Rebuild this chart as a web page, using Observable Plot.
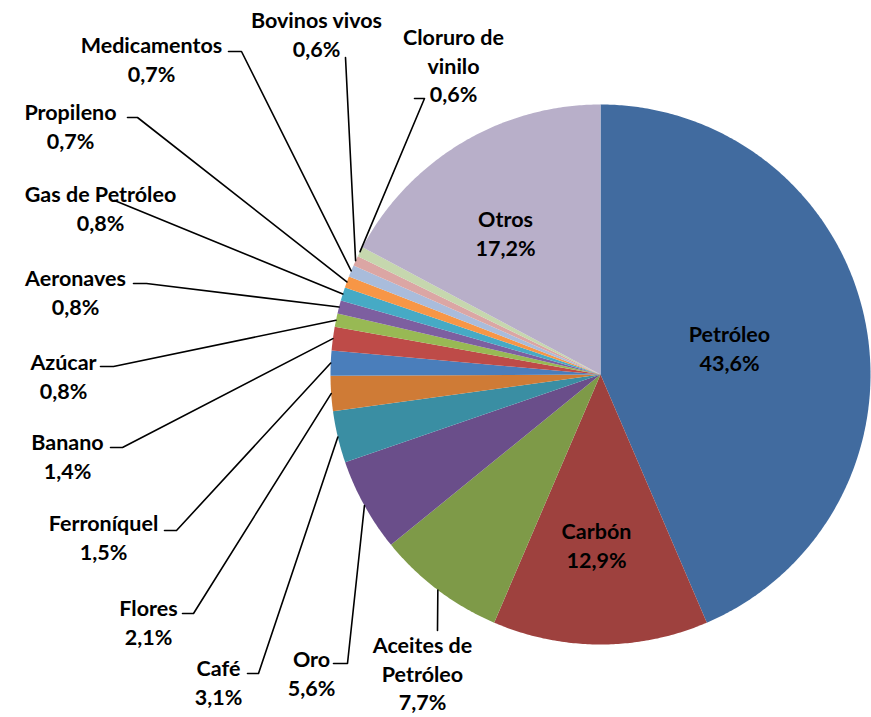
<!DOCTYPE html>
<html>
<head>
<meta charset="utf-8">
<script src="https://cdn.jsdelivr.net/npm/d3@7"></script>
<script src="https://cdn.jsdelivr.net/npm/@observablehq/plot@0.6"></script>
<style>
html,body{margin:0;padding:0;background:#fff;}
#chart{width:871px;height:717px;}
</style>
</head>
<body>
<div id="chart"></div>
<script>
// ---- data ----
const categories = ["Petróleo","Carbón","Aceites de Petróleo","Oro","Café","Flores","Ferroníquel","Banano","Azúcar","Aeronaves","Gas de Petróleo","Propileno","Medicamentos","Bovinos vivos","Cloruro de vinilo","Otros"];
const values = [43.6,12.9,7.7,5.6,3.1,2.1,1.5,1.4,0.8,0.8,0.8,0.7,0.7,0.6,0.6,17.2];
const valueLabels = ["43,6%","12,9%","7,7%","5,6%","3,1%","2,1%","1,5%","1,4%","0,8%","0,8%","0,8%","0,7%","0,7%","0,6%","0,6%","17,2%"];
const nameLabels = ["Petróleo","Carbón","Aceites de\nPetróleo","Oro","Café","Flores","Ferroníquel","Banano","Azúcar","Aeronaves","Gas de Petróleo","Propileno","Medicamentos","Bovinos vivos","Cloruro de\nvinilo","Otros"];

// ---- style / layout ----
const colors = ["#416B9F","#9E413E","#7E9A48","#6A4E8A","#3A8EA3","#CF7B36","#4A7EBB","#BE4B48","#98B954","#7D5FA0","#46AAC5","#F79646","#A9BCDB","#DBA6A4","#C6D7AE","#B8AFC9"];
const W = 871, H = 717, CX = 600, CY = 374, R = 270;
// label block centre [x, y]
const labelPos = [[729,347],[596,544],[422,672],[311,672],[218,681],[148,621],[103,536],[67,455],[63,375],[75,291],[100,207],[70,125],[151,58],[316,33],[453,64],[505,232]];
// leader start points (label side), null = label inside slice
const leaderStart = [null,null,[[437,630]],[[333,663],[347,663]],[[247,673],[258,673]],[[182,613],[193,613]],[[164,530],[176,530]],[[110,447],[122,447]],[[100,366],[113,366]],[[133,283],[146,283]],[[114,200]],[[127,117],[137,117]],[[228,51],[241,51]],[[345,57]],[[414,98],[424,98]]];

// ---- geometry from data ----
const total = d3.sum(values);
let cum = 0;
const slices = categories.map((c, i) => {
  const a0 = cum / total * 2 * Math.PI;
  cum += values[i];
  const a1 = cum / total * 2 * Math.PI;
  return {cat: c, i, a0, a1, mid: (a0 + a1) / 2};
});
const pt = (a, r) => [CX + r * Math.sin(a), CY - r * Math.cos(a)];
const slicePts = [];
for (const s of slices) {
  slicePts.push({cat: s.cat, x: CX, y: CY});
  const n = Math.max(4, Math.ceil((s.a1 - s.a0) / (Math.PI / 360)));
  for (let k = 0; k <= n; k++) {
    const [x, y] = pt(s.a0 + (s.a1 - s.a0) * k / n, R);
    slicePts.push({cat: s.cat, x, y});
  }
  slicePts.push({cat: s.cat, x: CX, y: CY});
}
const leaderPts = [];
slices.forEach((s, i) => {
  if (!leaderStart[i]) return;
  for (const [x, y] of leaderStart[i]) leaderPts.push({cat: s.cat, x, y});
  const [ex, ey] = pt(s.mid, R);
  leaderPts.push({cat: s.cat, x: ex, y: ey});
});
const labels = slices.map((s, i) => ({
  cat: s.cat,
  text: nameLabels[i] + "\n" + valueLabels[i],
  x: labelPos[i][0],
  y: labelPos[i][1]
}));

const chart = Plot.plot({
  width: W, height: H,
  margin: 0,
  x: {domain: [0, W], range: [0, W], axis: null},
  y: {domain: [0, H], range: [0, H], axis: null},
  color: {domain: categories, range: colors},
  style: {fontFamily: "Lato, 'Open Sans', sans-serif", background: "#fff"},
  marks: [
    Plot.line(slicePts, {x: "x", y: "y", z: "cat", fill: "cat", stroke: "none", curve: "linear"}),
    Plot.line(leaderPts, {x: "x", y: "y", z: "cat", stroke: "#000", strokeWidth: 1.6}),
    Plot.text(labels, {x: "x", y: "y", text: "text", fontSize: 21.5, fontWeight: "bold", fill: "#000", lineHeight: 1.33, lineAnchor: "middle", textAnchor: "middle"})
  ]
});
document.getElementById("chart").appendChild(chart);
</script>
</body>
</html>
